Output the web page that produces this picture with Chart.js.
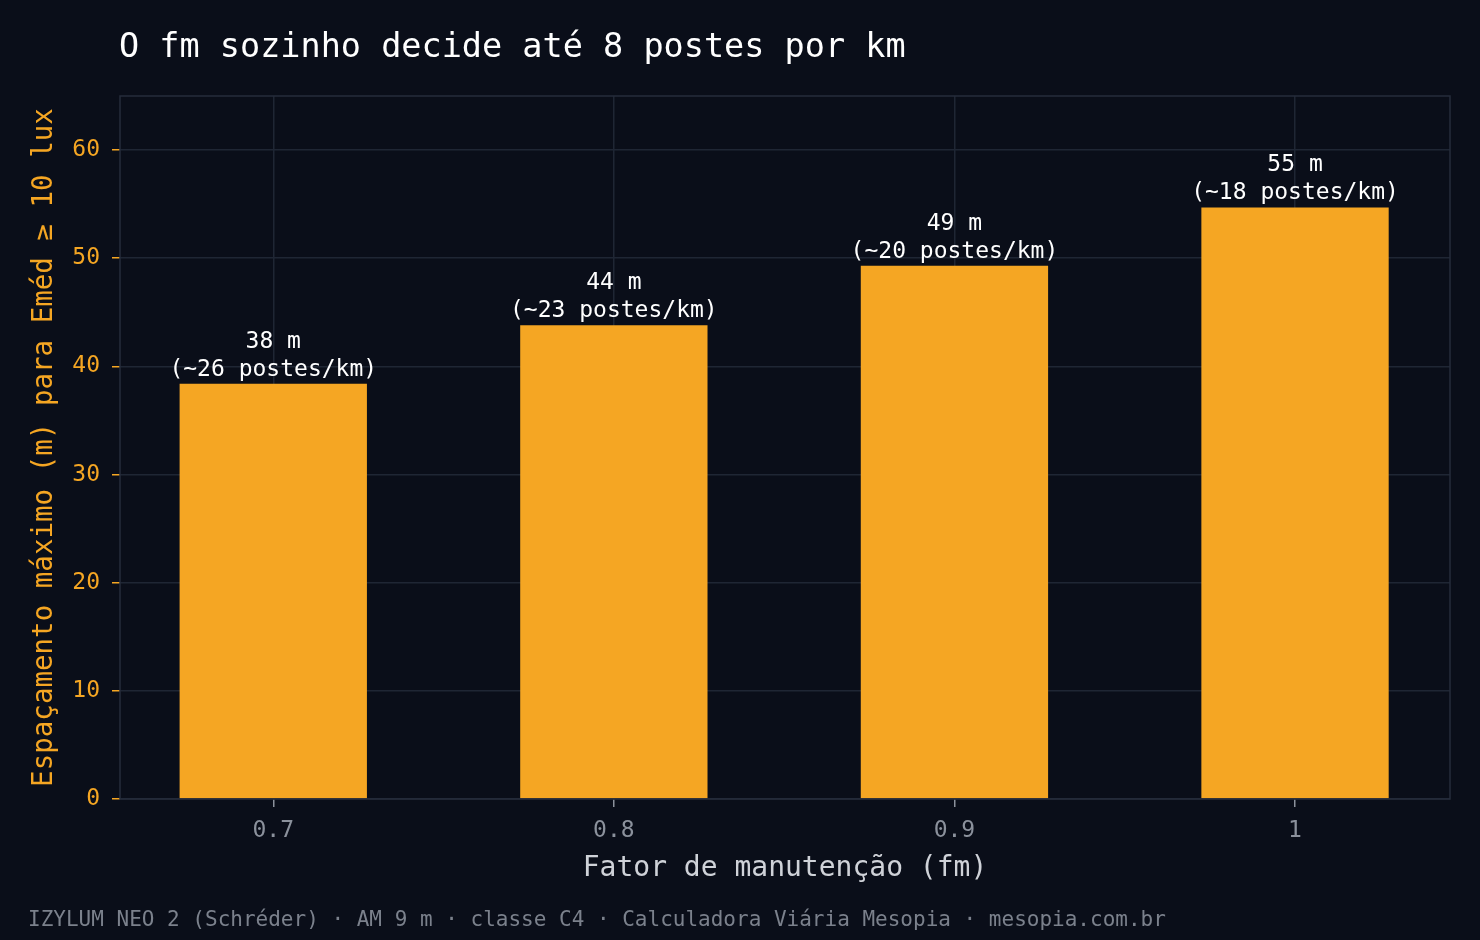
<!DOCTYPE html>
<html>
<head>
    <meta charset="utf-8">
    <title>O fm sozinho decide até 8 postes por km</title>
    <script src="https://cdn.jsdelivr.net/npm/chart.js"></script>
    <style>
        html, body { margin: 0; padding: 0; background: #0a0e19; }
        #wrap { position: relative; width: 1480px; height: 940px; }
    </style>
</head>
<body>
<div id="wrap"><canvas id="fmChart" width="1480" height="940"></canvas></div>
<script>
    // fator de manutenção x espaçamento máximo
    const fmValues = [0.7, 0.8, 0.9, 1.0];
    const spacing = [38.4, 43.8, 49.3, 54.7];
    const spacingLabels = ["38 m", "44 m", "49 m", "55 m"];
    const postesLabels = ["(~26 postes/km)", "(~23 postes/km)", "(~20 postes/km)", "(~18 postes/km)"];
    const xTicks = [0.7, 0.8, 0.9, 1];
    const yTicks = [0, 10, 20, 30, 40, 50, 60];

    const titleText = "O fm sozinho decide até 8 postes por km";
    const footerText = "IZYLUM NEO 2 (Schréder) · AM 9 m · classe C4 · Calculadora Viária Mesopia · mesopia.com.br";

    const MONO = "'DejaVu Sans Mono', monospace";
    const ORANGE = '#f5a623';
    const GRID = '#1f2634';

    const extras = {
        id: 'extras',
        beforeDraw(chart) {
            const ctx = chart.ctx;
            ctx.save();
            ctx.fillStyle = '#0a0e19';
            ctx.fillRect(0, 0, chart.width, chart.height);
            ctx.restore();
        },
        afterDatasetsDraw(chart) {
            const ctx = chart.ctx;
            const meta = chart.getDatasetMeta(0);
            ctx.save();
            ctx.fillStyle = '#ffffff';
            ctx.font = '23px ' + MONO;
            ctx.textAlign = 'center';
            ctx.textBaseline = 'alphabetic';
            meta.data.forEach((bar, i) => {
                ctx.fillText(postesLabels[i], bar.x, bar.y - 8);
                ctx.fillText(spacingLabels[i], bar.x, bar.y - 36);
            });
            ctx.restore();
        },
        afterDraw(chart) {
            const ctx = chart.ctx;
            const a = chart.chartArea;
            ctx.save();
            ctx.strokeStyle = '#262d3b';
            ctx.lineWidth = 1.5;
            ctx.strokeRect(a.left, a.top, a.right - a.left, a.bottom - a.top);

            ctx.textAlign = 'left';
            ctx.textBaseline = 'alphabetic';
            ctx.fillStyle = '#ffffff';
            ctx.font = '33.5px ' + MONO;
            ctx.fillText(titleText, 119, 57);

            ctx.fillStyle = '#7b818c';
            ctx.font = '21px ' + MONO;
            ctx.fillText(footerText, 28, 926);
            ctx.restore();
        }
    };

    new Chart(document.getElementById('fmChart'), {
        type: 'bar',
        data: {
            datasets: [{
                data: fmValues.map((x, i) => ({ x: x, y: spacing[i] })),
                backgroundColor: ORANGE,
                borderWidth: 0,
                barPercentage: 0.55,
                categoryPercentage: 1.0
            }]
        },
        plugins: [extras],
        options: {
            responsive: false,
            animation: false,
            devicePixelRatio: 1,
            layout: { padding: { left: 0, right: 30, top: 96, bottom: 0 } },
            plugins: {
                legend: { display: false },
                tooltip: { enabled: false }
            },
            scales: {
                x: {
                    type: 'linear',
                    min: 0.655,
                    max: 1.0455,
                    offset: false,
                    afterBuildTicks: s => { s.ticks = xTicks.map(v => ({ value: v })); },
                    afterFit: s => { s.height = 141; },
                    border: { display: false },
                    grid: { offset: false, color: GRID, lineWidth: 1.5, tickColor: '#8b919c', tickLength: 8 },
                    ticks: {
                        color: '#8b919c',
                        font: { family: MONO, size: 23 },
                        padding: 10,
                        callback: v => String(v)
                    },
                    title: {
                        display: true,
                        text: 'Fator de manutenção (fm)',
                        color: '#cfd2d8',
                        font: { family: MONO, size: 28 },
                        padding: { bottom: 54 }
                    }
                },
                y: {
                    min: 0,
                    max: 65,
                    afterBuildTicks: s => { s.ticks = yTicks.map(v => ({ value: v })); },
                    afterFit: s => { s.width = 120; },
                    border: { display: false },
                    grid: { color: GRID, lineWidth: 1.5, tickColor: ORANGE, tickLength: 8 },
                    ticks: {
                        color: ORANGE,
                        font: { family: MONO, size: 23 },
                        padding: 12
                    },
                    title: {
                        display: true,
                        text: 'Espaçamento máximo (m) para Eméd ≥ 10 lux',
                        color: ORANGE,
                        font: { family: MONO, size: 27.5 },
                        padding: { top: 28 }
                    }
                }
            }
        }
    });
</script>
</body>
</html>
